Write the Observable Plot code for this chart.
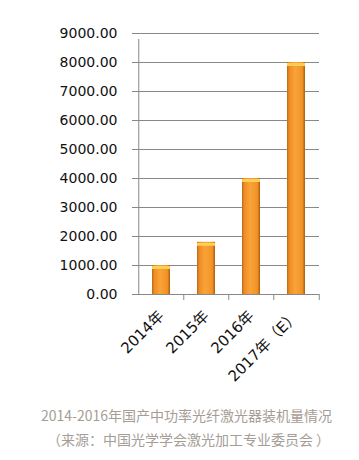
<!DOCTYPE html>
<html>
<head>
<meta charset="utf-8">
<script src="https://cdn.jsdelivr.net/npm/d3@7"></script>
<script src="https://cdn.jsdelivr.net/npm/@observablehq/plot@0.6"></script>
<style>
  body { margin: 0; background: #fff; }
  #chart svg { display: block; }
  .cap { width: 359px; box-sizing: border-box; padding-left: 14px; text-align: center; font-family: "Noto Sans CJK SC", "DejaVu Sans", sans-serif; font-size: 14px; color: #a59d96; line-height: 24px; padding-top: 3px; }
</style>
</head>
<body>
<div id="chart"></div>
<div class="cap">
  <div>2014-2016年国产中功率光纤激光器装机量情况</div>
  <div style="padding-left:4px">（来源：中国光学学会激光加工专业委员会 ）</div>
</div>
<script>
const categories = ["2014年", "2015年", "2016年", "2017年（E）"];
const values = [1000, 1800, 4000, 8000];
const yTicks = [0, 1000, 2000, 3000, 4000, 5000, 6000, 7000, 8000, 9000];

const data = categories.map((c, i) => ({cat: c, val: values[i]}));
const step = (359 - 137 - 40) / categories.length;

const chart = Plot.plot({
  width: 359,
  height: 400,
  marginLeft: 137,
  marginRight: 40,
  marginTop: 33,
  marginBottom: 106,
  style: {fontFamily: "'DejaVu Sans', 'Noto Sans CJK SC', sans-serif", fontSize: "14px", color: "#222", background: "#fff"},
  x: {domain: categories, paddingInner: 0.6, paddingOuter: 0.3, axis: null, label: null},
  y: {type: "linear", domain: [0, 9000], axis: null, label: null},
  marks: [
    Plot.ruleY(yTicks, {y: d => d, stroke: "#888", strokeWidth: 1}),
    Plot.barY(data, {x: "cat", y: "val", fill: "url(#barGrad)"}),
    Plot.tickY(data, {x: "cat", y: "val", stroke: "#ffcf55", strokeWidth: 3, dy: 2}),
    Plot.ruleX([categories[0]], {x: d => d, dx: -step / 2, y1: 0, y2: 9000, insetBottom: -6, stroke: "#888"}),
    Plot.ruleX(categories.slice(1), {x: d => d, dx: -step / 2, y1: 0, y2: 0, insetBottom: -6, stroke: "#888"}),
    Plot.ruleX(categories.slice(-1), {x: d => d, dx: step / 2, y1: 0, y2: 0, insetBottom: -6, stroke: "#888"}),
    Plot.axisY({ticks: yTicks, tickFormat: d3.format(".2f"), tickSize: 5, tickPadding: 15, stroke: "#888", fill: "#111", fontSize: 14, label: null}),
    Plot.axisX({tickRotate: -45, tickSize: 0, tickPadding: 19, fontSize: 15, fill: "#111", label: null})
  ]
});

const ns = "http://www.w3.org/2000/svg";
const defs = document.createElementNS(ns, "defs");
defs.innerHTML = `<linearGradient id="barGrad" x1="0" x2="1" y1="0" y2="0">
  <stop offset="0" stop-color="#b9661a"/>
  <stop offset="0.12" stop-color="#ee8c22"/>
  <stop offset="0.45" stop-color="#f9a33a"/>
  <stop offset="0.85" stop-color="#f29323"/>
  <stop offset="1" stop-color="#a85c16"/>
</linearGradient>`;
chart.insertBefore(defs, chart.firstChild);
document.getElementById("chart").appendChild(chart);
</script>
</body>
</html>
